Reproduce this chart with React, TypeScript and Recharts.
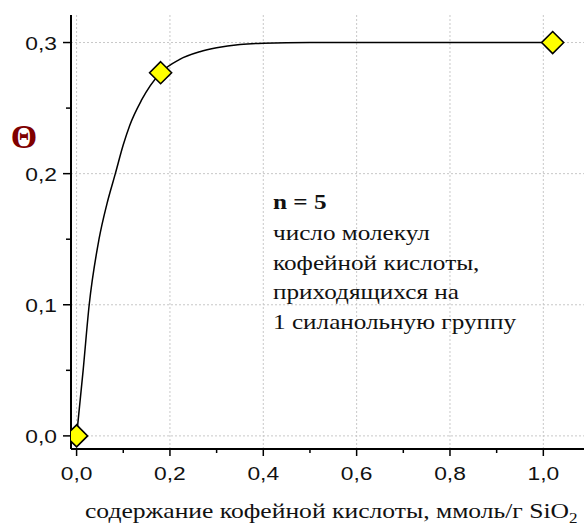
import React from 'react';
import {
  ComposedChart,
  Line,
  Scatter,
  XAxis,
  YAxis,
  ReferenceLine,
} from 'recharts';

// fitted curve
const curveX = [0, 0.014, 0.027, 0.048, 0.065, 0.083, 0.1, 0.114, 0.139, 0.18, 0.22, 0.264, 0.3, 0.35, 0.4, 0.5, 0.7, 0.9, 1.02];
const curveY = [0, 0.05, 0.1, 0.15, 0.177, 0.2, 0.222, 0.237, 0.256, 0.277, 0.287, 0.293, 0.296, 0.2985, 0.2995, 0.3, 0.3, 0.3, 0.3];

// measured points
const pointX = [0, 0.18, 1.02];
const pointY = [0, 0.277, 0.3];

const xMajor = [0, 0.2, 0.4, 0.6, 0.8, 1.0];
const xMinor = [0.1, 0.3, 0.5, 0.7, 0.9];
const yMajor = [0, 0.1, 0.2, 0.3];
const yMinor = [0.05, 0.15, 0.25];

const noteLines = [
  'число молекул',
  'кофейной кислоты,',
  'приходящихся на',
  '1 силанольную группу',
];

const curve = curveX.map((x, i) => ({ x, y: curveY[i] }));
const points = pointX.map((x, i) => ({ x, y: pointY[i] }));

const fmt = (v: number) => v.toFixed(1).replace('.', ',');
const sansFont = '"Liberation Sans", Arial, sans-serif';
const serifFont = '"Liberation Serif", "Times New Roman", serif';

const XTick = (props: any) => {
  const { x, y, payload } = props;
  const major = xMajor.includes(payload.value);
  return (
    <g>
      <line x1={x} y1={y} x2={x} y2={y + (major ? 7 : 4)} stroke="#000" strokeWidth={1.5} />
      {major && (
        <text
          transform={`translate(${x},${y + 31}) scale(1.2,1)`}
          textAnchor="middle"
          fontFamily={sansFont}
          fontSize={19}
          fill="#111"
        >
          {fmt(payload.value)}
        </text>
      )}
    </g>
  );
};

const YTick = (props: any) => {
  const { x, y, payload } = props;
  const major = yMajor.includes(payload.value);
  return (
    <g>
      <line x1={x} y1={y} x2={x - (major ? 8 : 5)} y2={y} stroke="#000" strokeWidth={1.5} />
      {major && (
        <text
          transform={`translate(${x - 14},${y + 7}) scale(1.2,1)`}
          textAnchor="end"
          fontFamily={sansFont}
          fontSize={19}
          fill="#111"
        >
          {fmt(payload.value)}
        </text>
      )}
    </g>
  );
};

const Diamond = (props: any) => {
  const { cx, cy } = props;
  const r = 11;
  return (
    <polygon
      points={`${cx},${cy - r} ${cx + r},${cy} ${cx},${cy + r} ${cx - r},${cy}`}
      fill="#ffff00"
      stroke="#000"
      strokeWidth={1.6}
    />
  );
};

export default function App() {
  return (
    <div style={{ position: 'absolute', left: 0, top: 0, width: 584, height: 527, overflow: 'hidden', background: '#fff' }}>
      <ComposedChart
        width={590}
        height={527}
        data={curve}
        margin={{ top: 15, right: 0, bottom: 0, left: 0 }}
      >
        <XAxis
          dataKey="x"
          type="number"
          domain={[-0.012, 1.1]}
          ticks={[...xMajor, ...xMinor]}
          interval={0}
          tickSize={0}
          tickMargin={0}
          tickLine={false}
          tick={<XTick />}
          height={78}
          axisLine={{ stroke: '#000', strokeWidth: 2 }}
          allowDataOverflow
        />
        <XAxis
          xAxisId="top"
          orientation="top"
          type="number"
          domain={[-0.012, 1.1]}
          height={0}
          tick={false}
          tickLine={false}
          axisLine={{ stroke: '#000', strokeWidth: 1.5 }}
        />
        <YAxis
          type="number"
          domain={[-0.01, 0.321]}
          ticks={[...yMajor, ...yMinor]}
          interval={0}
          tickSize={0}
          tickMargin={0}
          tickLine={false}
          tick={<YTick />}
          width={71}
          axisLine={{ stroke: '#000', strokeWidth: 2 }}
          allowDataOverflow
        />
        {xMajor.map((v) => (
          <ReferenceLine key={'gx' + v} x={v} stroke="#c8c8c8" strokeDasharray="2 2" strokeWidth={1} />
        ))}
        {yMajor.map((v) => (
          <ReferenceLine key={'gy' + v} y={v} stroke="#c8c8c8" strokeDasharray="2 2" strokeWidth={1} />
        ))}
        <Scatter data={points} dataKey="y" shape={<Diamond />} isAnimationActive={false} />
        <Line
          dataKey="y"
          type="monotone"
          stroke="#000"
          strokeWidth={1.5}
          dot={false}
          activeDot={false}
          isAnimationActive={false}
        />
      </ComposedChart>
      <svg width={584} height={527} style={{ position: 'absolute', left: 0, top: 0, pointerEvents: 'none' }}>
        <text x={24} y={148} textAnchor="middle" fontFamily={serifFont} fontWeight="bold" fontSize={34} fill="#800000">
          Θ
        </text>
        <g fontFamily={serifFont} fontSize={21} fill="#111">
          <text transform="translate(273,209) scale(1.2,1)" fontWeight="bold">n = 5</text>
          {noteLines.map((s, i) => (
            <text key={s} transform={`translate(273,${240 + i * 29.5}) scale(1.2,1)`}>
              {s}
            </text>
          ))}
          <text transform="translate(85,518) scale(1.22,1)">
            содержание кофейной кислоты, ммоль/г SiO
            <tspan fontSize={14} dy={5}>2</tspan>
          </text>
        </g>
      </svg>
    </div>
  );
}
